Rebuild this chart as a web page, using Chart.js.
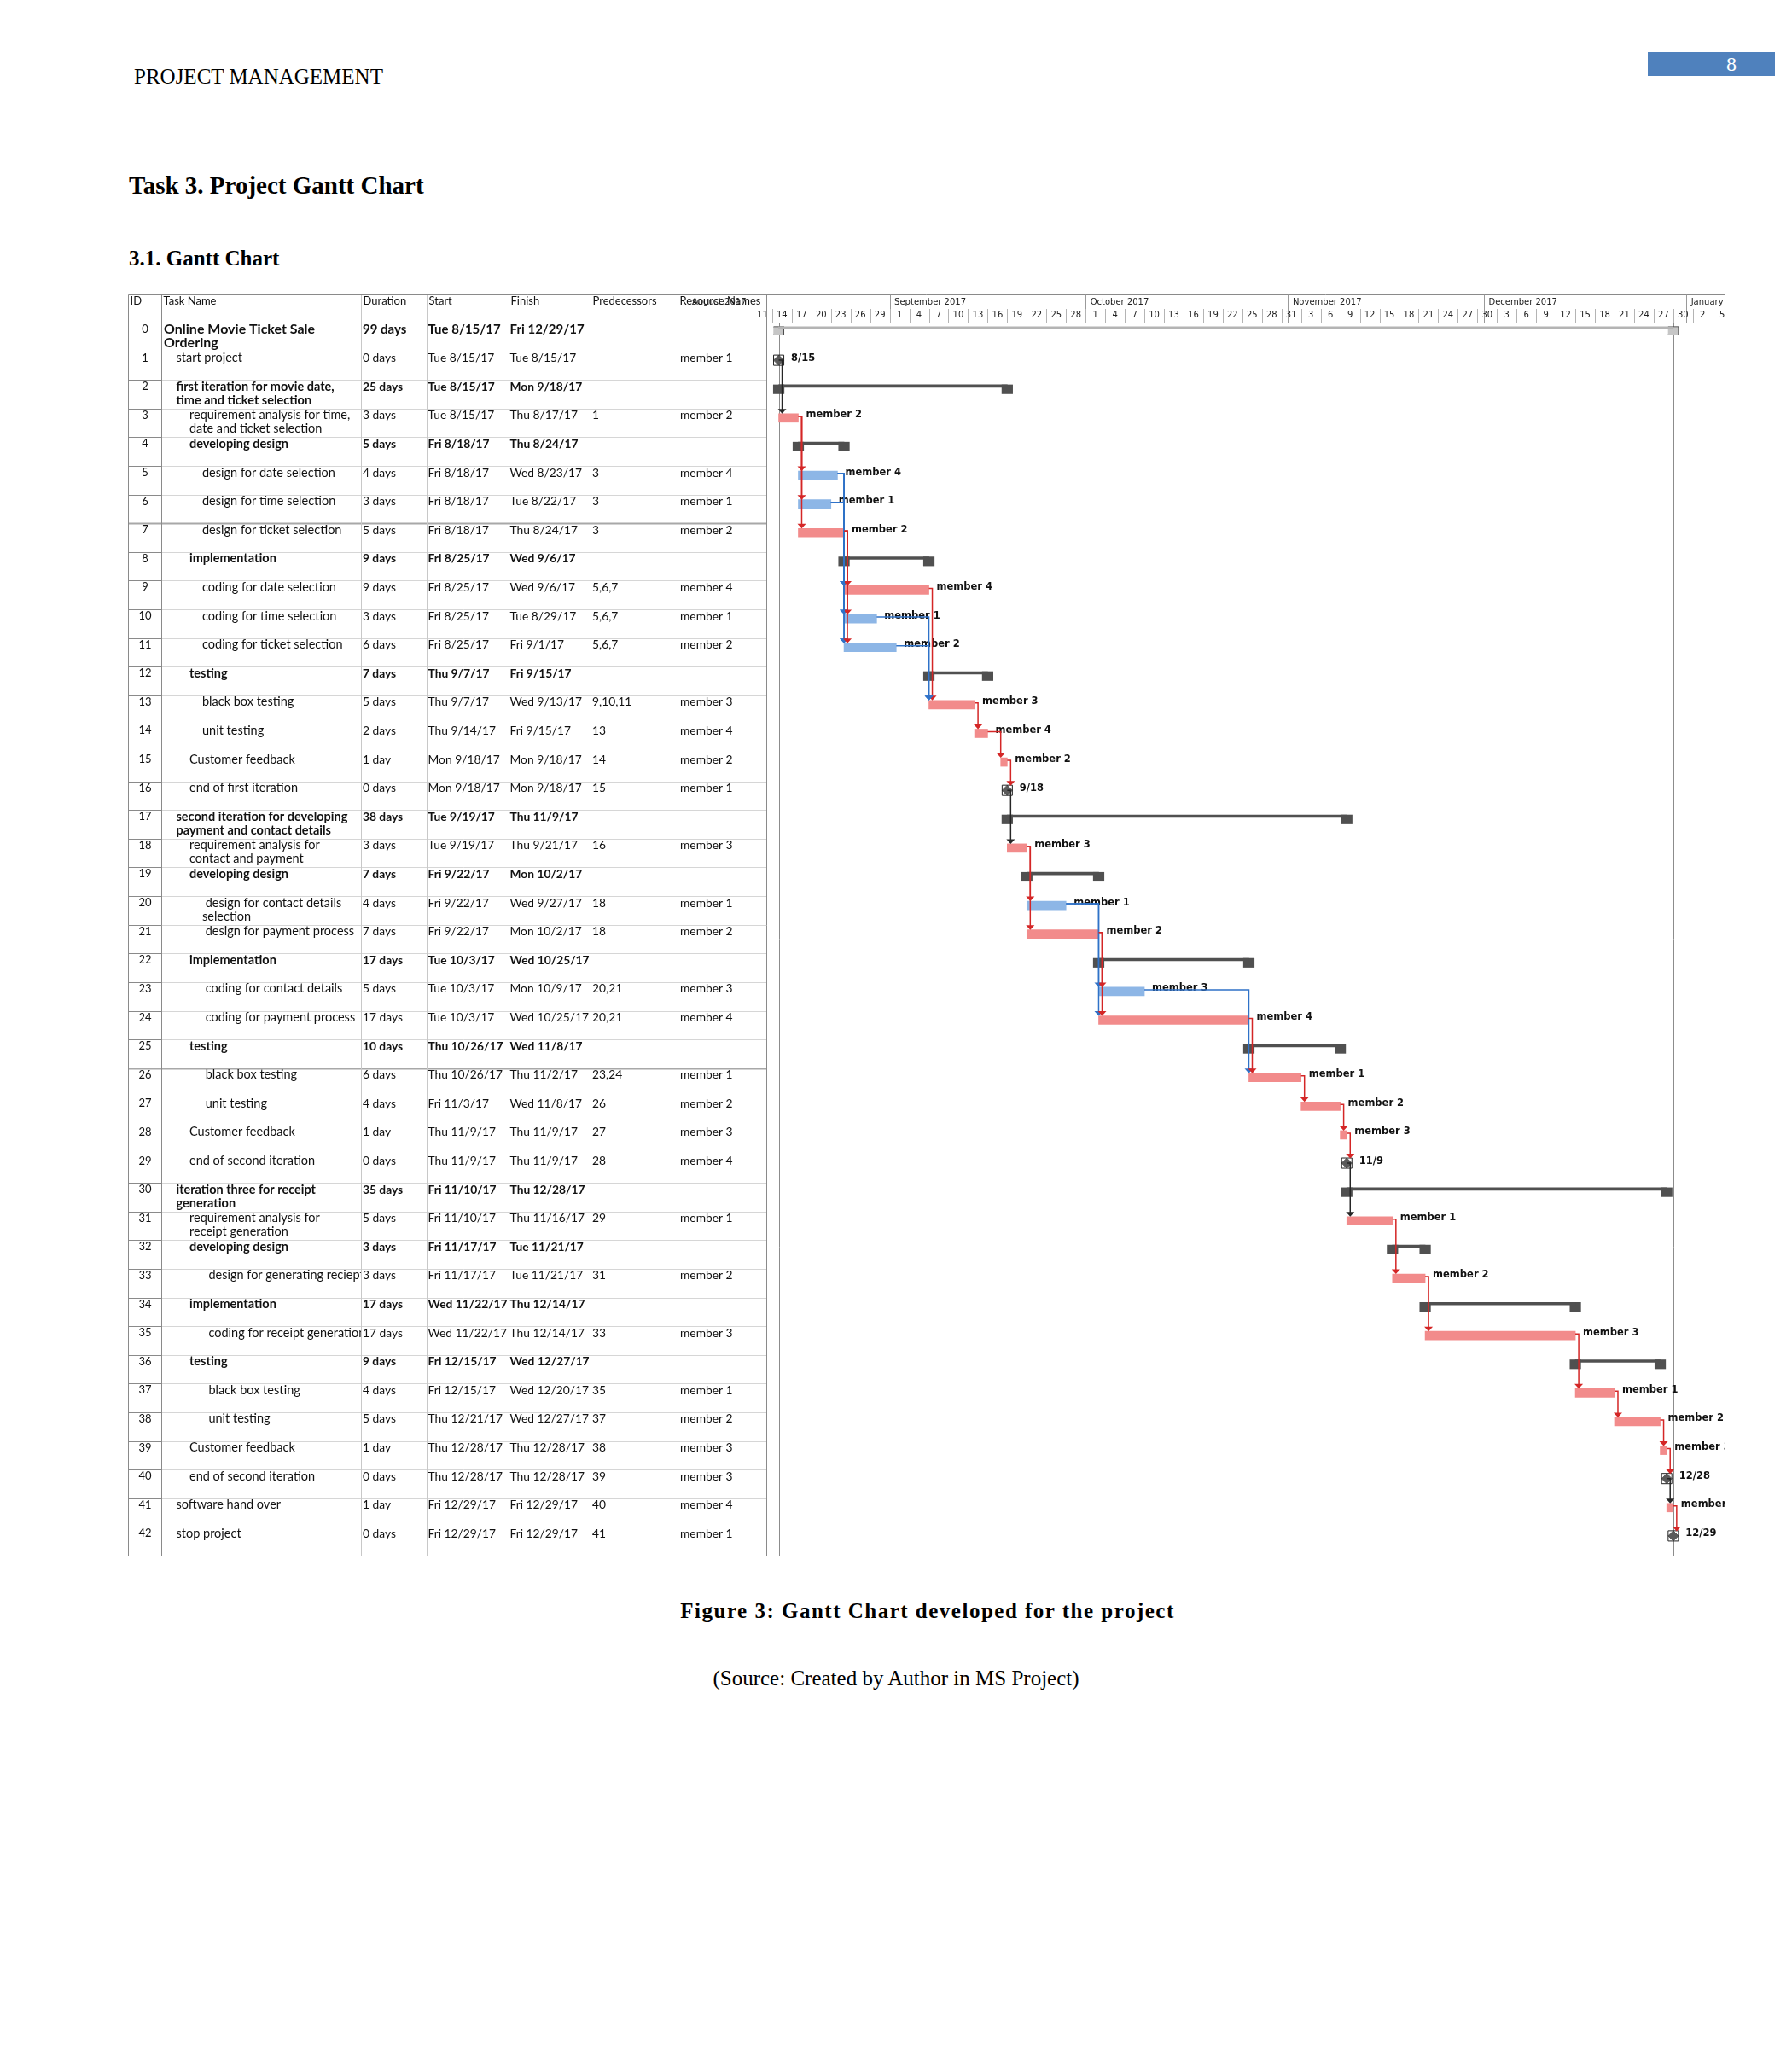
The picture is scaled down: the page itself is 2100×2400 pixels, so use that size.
<!DOCTYPE html>
<html>
<head>
<meta charset="utf-8">
<title>Project Gantt Chart</title>
<script src="https://cdn.jsdelivr.net/npm/chart.js@4.4.1/dist/chart.umd.min.js"></script>
<style>
  body { margin: 0; background: #fff; width: 2100px; height: 2400px; position: relative; overflow: hidden; }
  .txt { position: absolute; line-height: 1; white-space: nowrap; font-family: "Liberation Serif", serif; color: #000; }
  #pageNo { position: absolute; left: 1931px; top: 61px; width: 149px; height: 28px; background: #4f81bd; }
  #chartBox { position: absolute; left: 0; top: 0; width: 2100px; height: 1840px; }
</style>
</head>
<body>
<div class="txt" style="left:157px; top:77px; font-size:25px;">PROJECT MANAGEMENT</div>
<div id="pageNo"></div>
<div class="txt" style="left:2029px; top:63px; font-size:24px; color:#fff; transform:translateX(-50%);">8</div>
<div class="txt" style="left:151px; top:203px; font-size:29px; font-weight:bold;">Task 3. Project Gantt Chart</div>
<div class="txt" style="left:151px; top:290px; font-size:25px; font-weight:bold;">3.1. Gantt Chart</div>

<div id="chartBox"><canvas id="gantt" width="2100" height="1840"></canvas></div>

<div class="txt" style="left:1087px; top:1875px; font-size:25px; font-weight:bold; letter-spacing:1.5px; transform:translateX(-50%);">Figure 3: Gantt Chart developed for the project</div>
<div class="txt" style="left:1050px; top:1954px; font-size:25px; transform:translateX(-50%);">(Source: Created by Author in MS Project)</div>

<script>
// table columns
const headers = ["ID", "Task Name", "Duration", "Start", "Finish", "Predecessors", "Resource Names"];

const taskNames = [
    "Online Movie Ticket Sale\nOrdering", "start project",
    "first iteration for movie date,\ntime and ticket selection",
    "requirement analysis for time,\ndate and ticket selection",
    "developing design", "design for date selection", "design for time selection", "design for ticket selection",
    "implementation", "coding for date selection", "coding for time selection", "coding for ticket selection",
    "testing", "black box testing", "unit testing", "Customer feedback", "end of first iteration",
    "second iteration for developing\npayment and contact details",
    "requirement analysis for\ncontact and payment",
    "developing design", " design for contact details\nselection", " design for payment process",
    "implementation", " coding for contact details", " coding for payment process",
    "testing", " black box testing", " unit testing", "Customer feedback", "end of second iteration",
    "iteration three for receipt\ngeneration",
    "requirement analysis for\nreceipt generation",
    "developing design", "  design for generating reciept",
    "implementation", "  coding for receipt generation",
    "testing", "  black box testing", "  unit testing", "Customer feedback", "end of second iteration",
    "software hand over", "stop project"
];
const taskLevels = [0, 1, 1, 2, 2, 3, 3, 3, 2, 3, 3, 3, 2, 3, 3, 2, 2, 1, 2, 2, 3, 3, 2, 3, 3, 2, 3, 3, 2, 2,
    1, 2, 2, 3, 2, 3, 2, 3, 3, 2, 2, 1, 1];
const durations = ["99 days", "0 days", "25 days", "3 days", "5 days", "4 days", "3 days", "5 days", "9 days",
    "9 days", "3 days", "6 days", "7 days", "5 days", "2 days", "1 day", "0 days", "38 days", "3 days", "7 days",
    "4 days", "7 days", "17 days", "5 days", "17 days", "10 days", "6 days", "4 days", "1 day", "0 days",
    "35 days", "5 days", "3 days", "3 days", "17 days", "17 days", "9 days", "4 days", "5 days", "1 day",
    "0 days", "1 day", "0 days"];
const startDates = ["Tue 8/15/17", "Tue 8/15/17", "Tue 8/15/17", "Tue 8/15/17", "Fri 8/18/17", "Fri 8/18/17",
    "Fri 8/18/17", "Fri 8/18/17", "Fri 8/25/17", "Fri 8/25/17", "Fri 8/25/17", "Fri 8/25/17", "Thu 9/7/17",
    "Thu 9/7/17", "Thu 9/14/17", "Mon 9/18/17", "Mon 9/18/17", "Tue 9/19/17", "Tue 9/19/17", "Fri 9/22/17",
    "Fri 9/22/17", "Fri 9/22/17", "Tue 10/3/17", "Tue 10/3/17", "Tue 10/3/17", "Thu 10/26/17", "Thu 10/26/17",
    "Fri 11/3/17", "Thu 11/9/17", "Thu 11/9/17", "Fri 11/10/17", "Fri 11/10/17", "Fri 11/17/17",
    "Fri 11/17/17", "Wed 11/22/17", "Wed 11/22/17", "Fri 12/15/17", "Fri 12/15/17", "Thu 12/21/17",
    "Thu 12/28/17", "Thu 12/28/17", "Fri 12/29/17", "Fri 12/29/17"];
const finishDates = ["Fri 12/29/17", "Tue 8/15/17", "Mon 9/18/17", "Thu 8/17/17", "Thu 8/24/17", "Wed 8/23/17",
    "Tue 8/22/17", "Thu 8/24/17", "Wed 9/6/17", "Wed 9/6/17", "Tue 8/29/17", "Fri 9/1/17", "Fri 9/15/17",
    "Wed 9/13/17", "Fri 9/15/17", "Mon 9/18/17", "Mon 9/18/17", "Thu 11/9/17", "Thu 9/21/17", "Mon 10/2/17",
    "Wed 9/27/17", "Mon 10/2/17", "Wed 10/25/17", "Mon 10/9/17", "Wed 10/25/17", "Wed 11/8/17", "Thu 11/2/17",
    "Wed 11/8/17", "Thu 11/9/17", "Thu 11/9/17", "Thu 12/28/17", "Thu 11/16/17", "Tue 11/21/17",
    "Tue 11/21/17", "Thu 12/14/17", "Thu 12/14/17", "Wed 12/27/17", "Wed 12/20/17", "Wed 12/27/17",
    "Thu 12/28/17", "Thu 12/28/17", "Fri 12/29/17", "Fri 12/29/17"];
const predecessors = ["", "", "", "1", "", "3", "3", "3", "", "5,6,7", "5,6,7", "5,6,7", "", "9,10,11", "13",
    "14", "15", "", "16", "", "18", "18", "", "20,21", "20,21", "", "23,24", "26", "27", "28", "", "29", "",
    "31", "", "33", "", "35", "37", "38", "39", "40", "41"];
const resources = ["", "member 1", "", "member 2", "", "member 4", "member 1", "member 2", "", "member 4",
    "member 1", "member 2", "", "member 3", "member 4", "member 2", "member 1", "", "member 3", "", "member 1",
    "member 2", "", "member 3", "member 4", "", "member 1", "member 2", "member 3", "member 4", "", "member 1",
    "", "member 2", "", "member 3", "", "member 1", "member 2", "member 3", "member 3", "member 4", "member 1"];
const summaryRows = [0, 2, 4, 8, 12, 17, 19, 22, 25, 30, 32, 34, 36];
const nonCriticalRows = [5, 6, 10, 11, 20, 23];

// timescale
const monthLabels = ["August 2017", "September 2017", "October 2017", "November 2017", "December 2017", "January 2018"];
const monthStarts = ["8/1/17", "9/1/17", "10/1/17", "11/1/17", "12/1/17", "1/1/18"];

// days counted from Mon 8/14/17
function dayOf(text) {
    const p = text.split(" ").pop().split("/");
    return (Date.UTC(2000 + Number(p[2]), Number(p[0]) - 1, Number(p[1])) - Date.UTC(2017, 7, 14)) / 864e5;
}
const isMilestone = (i) => durations[i] === "0 days";
const isSummary = (i) => summaryRows.includes(i);
const barStart = (i) => dayOf(startDates[i]);
const barEnd = (i) => dayOf(finishDates[i]) + 1;
const milestoneDay = (i) => predecessors[i] ? dayOf(finishDates[i]) + 1 : dayOf(startDates[i]);

const allRows = taskNames.map((n, i) => i);
const workRows = allRows.filter((i) => !isSummary(i) && !isMilestone(i));
const criticalRows = workRows.filter((i) => !nonCriticalRows.includes(i));
const blueRows = workRows.filter((i) => nonCriticalRows.includes(i));
const subSummaryRows = summaryRows.filter((i) => i !== 0);
const milestoneRows = allRows.filter(isMilestone);

const CAP = 0.82; // half width of the summary end caps, in days

const colLines = [150.5, 189.5, 423.5, 500.5, 596.5, 692.5, 794.5, 898.5];
const nameIndent = [192, 206.5, 222, 237];
const textX = [null, null, 425, 501.5, 597.5, 694, 797];

const ganttPlugin = {
    id: "gantt",
    beforeDatasetsDraw(chart) {
        const { ctx, chartArea: area, scales: { x, y } } = chart;
        const rowTop = (i) => y.getPixelForValue(i - 0.5);
        const top = 345.5, bottom = Math.round(area.bottom) + 0.5;
        ctx.save();

        // table grid
        ctx.lineWidth = 1;
        for (let i = 1; i <= taskNames.length; i++) {
            const yy = Math.round(rowTop(i)) + 0.5;
            ctx.strokeStyle = "#d6d6d6";
            ctx.beginPath(); ctx.moveTo(189.5, yy); ctx.lineTo(898, yy); ctx.stroke();
            ctx.strokeStyle = "#8a8a8a";
            ctx.beginPath(); ctx.moveTo(150.5, yy); ctx.lineTo(189.5, yy); ctx.stroke();
        }
        [7, 26].forEach((i) => {
            const yy = Math.round(rowTop(i)) + 0.5;
            ctx.strokeStyle = "#a8a8a8"; ctx.lineWidth = 2;
            ctx.beginPath(); ctx.moveTo(150.5, yy); ctx.lineTo(898, yy); ctx.stroke();
        });
        ctx.lineWidth = 1;
        colLines.forEach((cx, k) => {
            ctx.strokeStyle = (k === 0 || k === 1 || k === colLines.length - 1) ? "#8a8a8a" : "#c8c8c8";
            ctx.beginPath(); ctx.moveTo(cx, top); ctx.lineTo(cx, bottom); ctx.stroke();
        });
        ctx.strokeStyle = "#8a8a8a";
        ctx.beginPath();
        ctx.moveTo(150.5, top); ctx.lineTo(area.right, top);
        ctx.moveTo(150.5, Math.round(area.top) + 0.5); ctx.lineTo(area.right, Math.round(area.top) + 0.5);
        ctx.moveTo(150.5, bottom); ctx.lineTo(area.right, bottom);
        ctx.stroke();
        ctx.strokeStyle = "#b0b0b0";
        ctx.beginPath(); ctx.moveTo(Math.round(area.right) + 0.5, top); ctx.lineTo(Math.round(area.right) + 0.5, bottom); ctx.stroke();

        // table header
        ctx.fillStyle = "#111";
        ctx.textBaseline = "alphabetic";
        ctx.font = '13px Lato';
        headers.forEach((h, k) => ctx.fillText(h, colLines[k] + 2, 357));

        // table rows
        taskNames.forEach((name, i) => {
            const t = rowTop(i);
            const bold = isSummary(i) ? "bold " : "";
            const nameSize = i === 0 ? 16 : 14.5;
            const cellSize = i === 0 ? 15 : 13.8;
            ctx.fillStyle = "#111";
            ctx.font = '13px Lato';
            ctx.textAlign = "center";
            ctx.fillText(String(i), 170, t + 12);
            ctx.textAlign = "left";

            ctx.save();
            ctx.beginPath(); ctx.rect(190, t, 233, 34); ctx.clip();
            ctx.font = bold + nameSize + "px Lato";
            name.split("\n").forEach((line, k) => ctx.fillText(line, nameIndent[taskLevels[i]], t + 12.5 + k * 16));
            ctx.restore();

            ctx.font = bold + cellSize + "px Lato";
            ctx.fillText(durations[i], textX[2], t + 12.5);
            ctx.fillText(startDates[i], textX[3], t + 12.5);
            ctx.fillText(finishDates[i], textX[4], t + 12.5);
            ctx.font = cellSize + "px Lato";
            ctx.fillText(predecessors[i], textX[5], t + 12.5);
            ctx.fillText(resources[i], textX[6], t + 12.5);
        });

        // timescale
        ctx.save();
        ctx.beginPath(); ctx.rect(150, 340, area.right - 150, 40); ctx.clip();
        ctx.font = '10px "DejaVu Sans"';
        ctx.fillStyle = "#222";
        monthStarts.forEach((m, k) => {
            const px = x.getPixelForValue(dayOf(m));
            if (px >= area.left) {
                ctx.strokeStyle = "#9a9a9a";
                ctx.beginPath(); ctx.moveTo(Math.round(px) + 0.5, top); ctx.lineTo(Math.round(px) + 0.5, area.top); ctx.stroke();
            }
            ctx.fillText(monthLabels[k], px + 5.5, 356.5);
        });
        ctx.textAlign = "center";
        for (let v = Math.floor(x.min / 3) * 3; v <= x.max; v += 3) {
            const px = x.getPixelForValue(v);
            if (px >= area.left) {
                ctx.strokeStyle = "#b4b4b4";
                ctx.beginPath(); ctx.moveTo(Math.round(px) + 0.5, 362); ctx.lineTo(Math.round(px) + 0.5, area.top); ctx.stroke();
            }
            const d = new Date(Date.UTC(2017, 7, 14) + v * 864e5).getUTCDate();
            ctx.fillText(String(d), x.getPixelForValue(v + 1.5), 372);
        }
        ctx.restore();

        // project start / finish lines
        ctx.strokeStyle = "#8c8c8c";
        [barStart(0), barEnd(0)].forEach((d) => {
            const px = Math.round(x.getPixelForValue(d)) + 0.5;
            ctx.beginPath(); ctx.moveTo(px, area.top); ctx.lineTo(px, area.bottom); ctx.stroke();
        });
        ctx.restore();
    },
    afterDatasetsDraw(chart) {
        const { ctx, chartArea: area, scales: { x, y } } = chart;
        const rowTop = (i) => y.getPixelForValue(i - 0.5);
        ctx.save();
        ctx.beginPath(); ctx.rect(area.left, area.top, area.right - area.left, area.bottom - area.top); ctx.clip();

        // bar labels
        ctx.fillStyle = "#111";
        ctx.font = 'bold 11.5px "DejaVu Sans"';
        allRows.forEach((i) => {
            if (isSummary(i)) return;
            if (isMilestone(i)) {
                const label = finishDates[i].split(" ").pop().split("/").slice(0, 2).join("/");
                ctx.fillText(label, x.getPixelForValue(milestoneDay(i)) + 14.5, rowTop(i) + 11);
            } else {
                ctx.fillText(resources[i], x.getPixelForValue(barEnd(i)) + 9, rowTop(i) + 10.5);
            }
        });

        // links
        ctx.lineWidth = 1.5;
        predecessors.forEach((list, i) => {
            if (!list) return;
            list.split(",").forEach((p) => {
                const j = Number(p);
                const predMs = isMilestone(j);
                const pEnd = x.getPixelForValue(predMs ? milestoneDay(j) : barEnd(j));
                const sStart = x.getPixelForValue(isMilestone(i) ? milestoneDay(i) : barStart(i));
                const sy = rowTop(j) + (predMs ? 10.5 : 9);
                const vx = Math.max(pEnd + 4, sStart);
                const tip = rowTop(i) + (isMilestone(i) ? 5 : 6);
                const color = predMs ? "#262626" : nonCriticalRows.includes(j) ? "#2f72c8" : "#d42626";
                ctx.strokeStyle = color;
                ctx.fillStyle = color;
                ctx.beginPath(); ctx.moveTo(pEnd, sy); ctx.lineTo(vx, sy); ctx.lineTo(vx, tip - 4); ctx.stroke();
                ctx.beginPath();
                ctx.moveTo(vx - 5, tip - 5.5); ctx.lineTo(vx + 5, tip - 5.5); ctx.lineTo(vx, tip);
                ctx.closePath(); ctx.fill();
            });
        });
        ctx.restore();
    }
};

const barSet = (label, data, color, thickness, extra) => Object.assign({
    label, data, indexAxis: "y", backgroundColor: color, borderWidth: 0,
    barThickness: thickness, grouped: false
}, extra || {});

new Chart(document.getElementById("gantt"), {
    type: "bar",
    data: {
        datasets: [
            barSet("Project", [{ x: [barStart(0), barEnd(0)], y: -0.5 + 6.2 / 33.6 }], "#b4b4b4", 2.5),
            barSet("Project ends", [
                { x: [barStart(0) - CAP, barStart(0) + CAP], y: -0.5 + 9.7 / 33.6 },
                { x: [barEnd(0) - CAP, barEnd(0) + CAP], y: -0.5 + 9.7 / 33.6 }
            ], "#c6c6c6", 10, { borderWidth: 1, borderColor: "#3a3a3a" }),
            barSet("Summary", subSummaryRows.map((i) => ({ x: [barStart(i), barEnd(i)], y: i - 0.5 + 7.2 / 33.6 })), "#505050", 3),
            barSet("Summary ends", subSummaryRows.flatMap((i) => [
                { x: [barStart(i) - CAP, barStart(i) + CAP], y: i - 0.5 + 11 / 33.6 },
                { x: [barEnd(i) - CAP, barEnd(i) + CAP], y: i - 0.5 + 11 / 33.6 }
            ]), "#505050", 10.5),
            barSet("Critical", criticalRows.map((i) => ({ x: [barStart(i), barEnd(i)], y: i - 0.5 + 11 / 33.6 })), "#f28b8b", 10),
            barSet("Task", blueRows.map((i) => ({ x: [barStart(i), barEnd(i)], y: i - 0.5 + 11 / 33.6 })), "#8db6e6", 10),
            {
                type: "scatter", label: "Milestone frame",
                data: milestoneRows.map((i) => ({ x: milestoneDay(i), y: i - 0.5 + 10.5 / 33.6 })),
                pointStyle: "rect", pointRadius: 8.5, backgroundColor: "rgba(0,0,0,0)",
                borderColor: "#222", borderWidth: 1
            },
            {
                type: "scatter", label: "Milestone",
                data: milestoneRows.map((i) => ({ x: milestoneDay(i), y: i - 0.5 + 10.5 / 33.6 })),
                pointStyle: "rectRot", pointRadius: 6, backgroundColor: "#5a5a5a",
                borderColor: "#5a5a5a", borderWidth: 1
            }
        ]
    },
    options: {
        responsive: false,
        devicePixelRatio: 1,
        animation: false,
        layout: { padding: { left: 898, right: 79, top: 378, bottom: 17 } },
        scales: {
            x: { type: "linear", min: -0.9, max: 145.86, offset: false, grace: 0, bounds: "data", beginAtZero: false, display: false },
            y: { type: "linear", min: -0.5, max: taskNames.length - 0.5, offset: false, grace: 0, bounds: "data", beginAtZero: false, reverse: true, display: false }
        },
        plugins: { legend: { display: false }, tooltip: { enabled: false } }
    },
    plugins: [ganttPlugin]
});
</script>
</body>
</html>
